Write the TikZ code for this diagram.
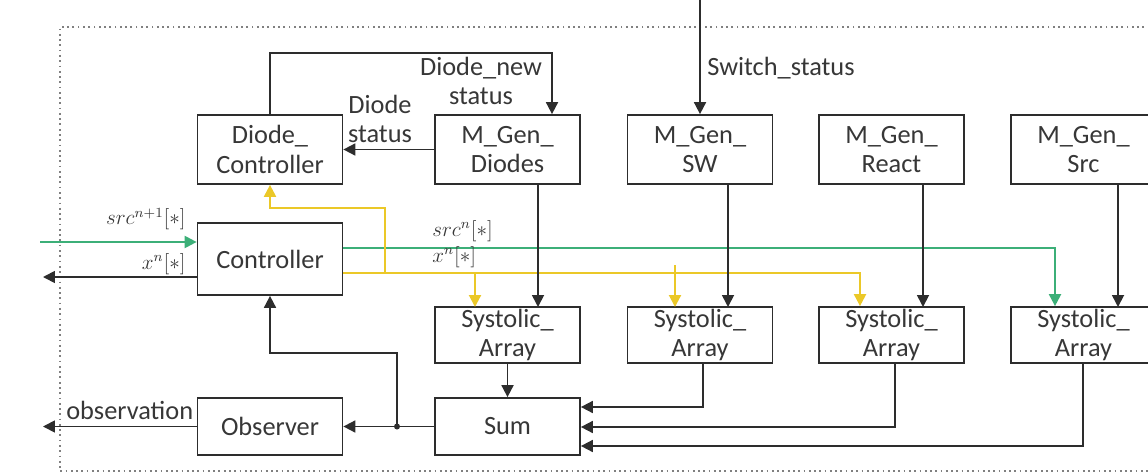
\documentclass[tikz,border=0pt]{standalone}
\usepackage{fontspec}
\setmainfont{Carlito}
\usetikzlibrary{arrows.meta}
\definecolor{lc}{RGB}{45,45,45}
\definecolor{tc}{RGB}{55,55,55}
\definecolor{gline}{RGB}{60,175,120}
\definecolor{yline}{RGB}{235,200,40}
\tikzset{
  box/.style={draw=lc, line width=1pt, fill=white, minimum width=2.9cm, text=tc,
    align=center, font=\fontsize{15}{17}\selectfont, inner sep=0pt},
  arr/.style={draw=lc, line width=1pt, -{Triangle[length=2.4mm,width=2.4mm]}},
  garr/.style={draw=gline, line width=1.2pt, -{Triangle[length=2.4mm,width=2.4mm]}},
  yarr/.style={draw=yline, line width=1.2pt, -{Triangle[length=2.4mm,width=2.4mm]}},
  yplain/.style={draw=yline, line width=1.2pt},
  lbl/.style={text=tc, font=\fontsize{15}{17}\selectfont, align=center, inner sep=0pt},
  mlbl/.style={text=tc, font=\fontsize{12}{14}\selectfont, inner sep=0pt},
}
\begin{document}
\begin{tikzpicture}[x=0.02cm,y=-0.02cm]
\useasboundingbox (0,0) rectangle (1148,473);
% frame
\draw[gray, dotted, line width=1pt] (1160,27) -- (60,27) -- (60,471) -- (1160,471);

% boxes
\node[box, minimum height=1.38cm] (dc)   at (270,149.5) {Diode\_\\Controller};
\node[box, minimum height=1.38cm] (mgd)  at (507.5,149.5) {M\_Gen\_\\Diodes};
\node[box, minimum height=1.38cm] (mgsw) at (700,149.5) {M\_Gen\_\\SW};
\node[box, minimum height=1.38cm] (mgr)  at (891.5,149.5) {M\_Gen\_\\React};
\node[box, minimum height=1.38cm] (mgs)  at (1083.5,149.5) {M\_Gen\_\\Src};
\node[box, minimum height=1.44cm] (ctrl) at (270,259) {Controller};
\node[box, minimum height=1.12cm] (sa1)  at (507.5,335) {Systolic\_\\Array};
\node[box, minimum height=1.12cm] (sa2)  at (700,335) {Systolic\_\\Array};
\node[box, minimum height=1.12cm] (sa3)  at (891.5,335) {Systolic\_\\Array};
\node[box, minimum height=1.12cm] (sa4)  at (1083.5,335) {Systolic\_\\Array};
\node[box, minimum height=1.14cm] (sum)  at (507.5,426.5) {Sum};
\node[box, minimum height=1.14cm] (obs)  at (270,426.5) {Observer};

% coordinates
\coordinate (swtop) at (700,0);
\coordinate (fbtop) at (552,53);
\coordinate (xout) at (43,277);
\coordinate (gin) at (40,242);
\coordinate (gturn) at (1055,248);
\coordinate (yturn) at (860,273);
\coordinate (yup) at (385,273);
\coordinate (yupt) at (385,208);
\coordinate (jn) at (397,426.5);
\coordinate (fbc) at (397,353);
\coordinate (obsout) at (43,426.5);
\coordinate (ystub) at (675,265);

% top connections
\draw[arr] (swtop) -- (mgsw.north);
\draw[arr] (dc.north) |- (fbtop) -- (fbtop |- mgd.north);
\draw[arr] (mgd.west) -- (dc.east);

% controller in/out
\draw[arr] (ctrl.west |- xout) -- (xout);
\draw[garr] (gin) -- (gin -| ctrl.west);

% green to Src systolic
\draw[garr] (ctrl.east |- gturn) -| (gturn |- sa4.north);

% yellow
\draw[yarr] (ctrl.east |- yturn) -| (yturn |- sa3.north);
\draw[yarr] (475,273) -- (475,307);
\draw[yarr] (ystub) -- (675,307);
\draw[yarr] (yup) -- (yupt) -| (dc.south);

% M_Gen -> Systolic
\draw[arr] (538,184) -- (538,307);
\draw[arr] (728,184) -- (728,307);
\draw[arr] (923,184) -- (923,307);
\draw[arr] (1118,184) -- (1118,307);

% Systolic -> Sum
\draw[arr] (sa1.south) -- (sum.north);
\draw[arr] (703,363) |- (sum.east |- 0,407);
\draw[arr] (895,363) |- (sum.east |- 0,427);
\draw[arr] (1083,363) |- (sum.east |- 0,446);

% Sum -> Observer, feedback to controller
\draw[arr] (sum.west) -- (obs.east);
\fill[lc] (jn) circle (3);
\draw[arr] (jn) -- (fbc) -| (ctrl.south);
\draw[arr] (obs.west) -- (obsout);

% labels
\node[lbl, anchor=west] at (707,68) {Switch\_status};
\node[lbl] at (481,81) {Diode\_new\\status};
\node[lbl] at (380,119) {Diode\\status};
\node[lbl, anchor=south west] at (66,420) {observation};
\node[mlbl, anchor=east] at (186,219) {$src^{n+1}[*]$};
\node[mlbl, anchor=east] at (186,264) {$x^{n}[*]$};
\node[mlbl, anchor=west] at (432,231) {$src^{n}[*]$};
\node[mlbl, anchor=west] at (432,257) {$x^{n}[*]$};
\end{tikzpicture}
\end{document}
